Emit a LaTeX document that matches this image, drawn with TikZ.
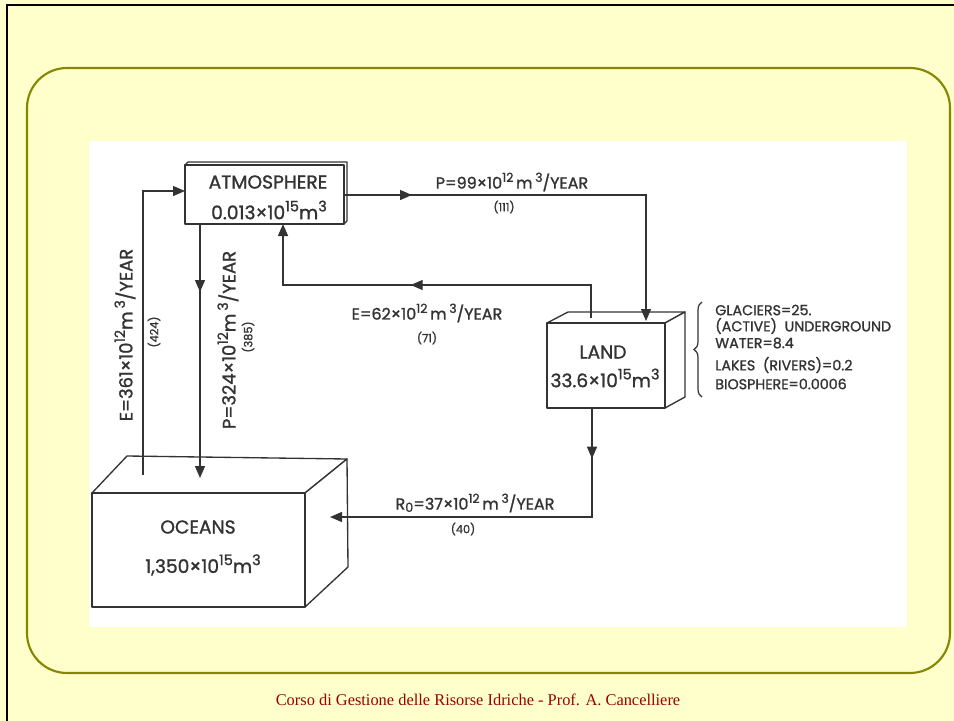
\documentclass[tikz,border=0pt]{standalone}
\usepackage{fontspec}
\usepackage{graphicx}
\setmainfont{Liberation Serif}
\newfontfamily\diag[FakeBold=1.2]{Poppins}
\usetikzlibrary{arrows.meta,decorations.markings,decorations.pathreplacing}
\definecolor{bg}{HTML}{FFFFCC}
\definecolor{framecol}{HTML}{868600}
\definecolor{ink}{HTML}{333333}
\definecolor{foot}{HTML}{990000}
\newcommand{\sps}[1]{\raisebox{0.42em}{\scalebox{0.78}{#1}}}
\begin{document}
\begin{tikzpicture}[x=0.75pt,y=-0.75pt,
  flow/.style={draw=ink,line width=1pt},
  endtip/.style={-{Triangle[length=9pt,width=7.5pt]}},
  midarr/.style={postaction={decorate},decoration={markings,mark=at position #1 with {\arrow{Triangle[length=9pt,width=7.5pt]}}}},
  box/.style={draw=ink,line width=1pt,fill=white,line join=round},
  big/.style={text=ink,inner sep=0pt,font=\diag\fontsize{14}{16}\selectfont},
  lbl/.style={text=ink,inner sep=0pt,font=\diag\fontsize{12}{14}\selectfont},
  vlbl/.style={text=ink,inner sep=0pt,rotate=90,font=\diag\fontsize{13.5}{15}\selectfont},
  small/.style={text=ink,inner sep=0pt,font=\diag\fontsize{8.5}{10}\selectfont},
  side/.style={text=ink,inner sep=0pt,anchor=west,font=\diag\fontsize{10.7}{12}\selectfont}]
\useasboundingbox (0,0) rectangle (954,721);
\fill[bg] (0,0) rectangle (954,721);
\draw[black,line width=1.6pt] (7,722) -- (7,5) -- (955,5);
\draw[framecol,line width=1.6pt,rounded corners=30] (27,68) rectangle (950,673);
\fill[white] (89,141) rectangle (907,627);

% boxes
\draw[box] (185,165) -- (188,162) -- (347,162) -- (347,221) -- (344,224) -- cycle;
\draw[box] (185,165) rectangle (344,224);
\draw[box] (547,323) -- (568,312) -- (685,312) -- (665,323) -- cycle;
\draw[box] (665,323) -- (685,312) -- (685,397) -- (665,408) -- cycle;
\draw[box] (547,323) rectangle (665,408);
\draw[box] (92,493) -- (127,456) -- (347,459) -- (305,493) -- cycle;
\draw[box] (305,493) -- (347,459) -- (348,567) -- (305,607) -- cycle;
\draw[box] (92,493) rectangle (305,607);

% box texts
\node[big] (atm) at (268,182) {ATMOSPHERE};
\node[big] (atmv) at (269,210) {0.013×10\sps{15}m\sps{3}};
\node[big] (land) at (603,352) {LAND};
\node[big] (landv) at (605,378) {33.6×10\sps{15}m\sps{3}};
\node[big] (ocean) at (198,527) {OCEANS};
\node[big] (oceanv) at (203,565) {1,350×10\sps{15}m\sps{3}};

% connector end points
\coordinate (oE) at (143,475);
\coordinate (aL) at (185,191);
\coordinate (aB1) at (200,224);
\coordinate (oP) at (200,478);
\coordinate (aR) at (344,195);
\coordinate (lP) at (646,321);
\coordinate (lE) at (591,318);
\coordinate (aB2) at (283,224);
\coordinate (lB) at (592,408);
\coordinate (oR) at (330,517);

% connectors
\draw[flow,endtip] (oE) |- (aL);
\draw[flow,endtip,midarr=51pt] (aB1) -- (oP);
\draw[flow,endtip,midarr=51pt] (aR) -| (lP);
\draw[flow,endtip,midarr=160pt] (lE) -- (591,285) -| (aB2);
\draw[flow,endtip,midarr=38pt] (lB) |- (oR);

% flow labels
\node[lbl] (p99) at (512,182) {P=99×10\sps{12}\,m\,\sps{3}/YEAR};
\node[small] (p99n) at (504,207) {(111)};
\node[lbl] (e62) at (427,313) {E=62×10\sps{12}\,m\,\sps{3}/YEAR};
\node[small] (e62n) at (427,338) {(71)};
\node[lbl] (r0) at (475,503) {R\raisebox{-0.15em}{\scalebox{0.8}{0}}=37×10\sps{12}\,m\,\sps{3}/YEAR};
\node[small] (r0n) at (463,529) {(40)};
\node[vlbl] (e361) at (125,335) {E=361×10\sps{12}m\,\sps{3}/YEAR};
\node[small,rotate=90] (e361n) at (154,332) {(424)};
\node[vlbl] (p324) at (228,340) {P=324×10\sps{12}m\,\sps{3}/YEAR};
\node[small,rotate=90] (p324n) at (248,337) {(385)};

% land composition
\draw[ink,line width=0.9pt,decorate,decoration={brace,amplitude=6pt}] (702,397) -- (702,302);
\node[side] (s1) at (715,310) {GLACIERS=25.};
\node[side] (s2) at (715,326) {(ACTIVE)\ \ UNDERGROUND};
\node[side] (s3) at (715,343) {WATER=8.4};
\node[side] (s4) at (715,365) {LAKES\ \ (RIVERS)=0.2};
\node[side] (s5) at (715,384) {BIOSPHERE=0.0006};

% footer
\node[text=foot,font=\fontsize{12.3}{14}\selectfont,inner sep=0pt] (footer) at (478,700) {Corso di Gestione delle Risorse Idriche - Prof. A. Cancelliere};
\end{tikzpicture}
\end{document}
